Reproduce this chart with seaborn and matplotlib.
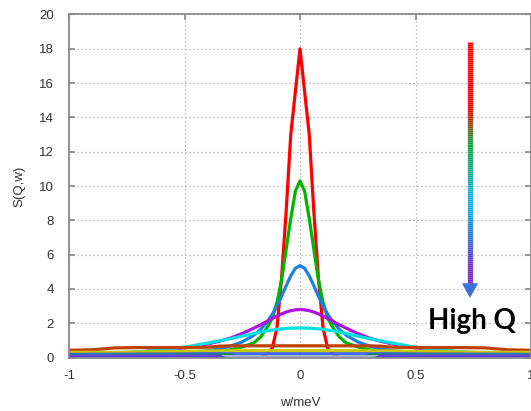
import numpy as np
import pandas as pd
import matplotlib
matplotlib.use("Agg")
import matplotlib.pyplot as plt
import seaborn as sns
from matplotlib.patches import Polygon
from matplotlib.collections import LineCollection
from matplotlib.colors import LinearSegmentedColormap

# ---------------- data (curves are symmetric in w) ----------------
w_half = [0.0, 0.02, 0.04, 0.06, 0.08, 0.10, 0.12, 0.14, 0.17, 0.20,
          0.25, 0.30, 0.35, 0.40, 0.50, 0.60, 0.70, 0.80, 0.90, 1.0]

S_red    = [18.0, 15.5, 13.0, 8.5, 4.6, 1.7, 0.55, 0.2, 0.0, 0.0,
            0.0, 0.0, -0.15, -0.15, -0.15, -0.15, -0.15, -0.15, -0.15, -0.15]
S_green  = [10.3, 9.7, 8.1, 6.3, 4.5, 3.2, 2.3, 1.8, 1.2, 0.85,
            0.62, 0.45, 0.35, 0.3, 0.25, 0.22, 0.2, 0.19, 0.18, 0.18]
S_blue   = [5.36, 5.2, 4.76, 4.18, 3.57, 3.0, 2.52, 2.12, 1.64, 1.3,
            0.91, 0.67, 0.5, 0.4, 0.28, 0.22, 0.2, 0.2, 0.2, 0.2]
S_purple = [2.8, 2.78, 2.73, 2.65, 2.54, 2.41, 2.28, 2.13, 1.91, 1.71,
            1.4, 1.14, 0.94, 0.79, 0.56, 0.42, 0.32, 0.25, 0.2, 0.17]
S_cyan   = [1.72, 1.72, 1.71, 1.69, 1.67, 1.64, 1.6, 1.56, 1.49, 1.4,
            1.25, 1.1, 0.97, 0.84, 0.6, 0.45, 0.33, 0.27, 0.23, 0.2]
S_brown  = [0.68, 0.68, 0.68, 0.68, 0.68, 0.68, 0.68, 0.68, 0.68, 0.68,
            0.68, 0.68, 0.66, 0.6, 0.58, 0.58, 0.58, 0.56, 0.45, 0.42]
S_yellow = [0.4, 0.4, 0.4, 0.4, 0.4, 0.4, 0.4, 0.4, 0.4, 0.4,
            0.39, 0.39, 0.38, 0.38, 0.36, 0.34, 0.32, 0.3, 0.3, 0.3]
S_royal  = [0.22, 0.22, 0.22, 0.22, 0.22, 0.22, 0.22, 0.22, 0.22, 0.22,
            0.22, 0.22, 0.22, 0.22, 0.21, 0.2, 0.2, 0.19, 0.19, 0.18]
S_dkgreen = [-0.2, -0.2, -0.2, -0.2, -0.2, -0.2, -0.2, -0.2, -0.2, -0.2,
             -0.2, 0.14, 0.14, 0.14, 0.14, 0.14, 0.14, 0.13, 0.13, 0.13]
S_grey   = [0.04, 0.04, 0.04, 0.04, 0.04, 0.04, 0.04, 0.04, 0.04, 0.04,
            0.06, 0.06, 0.07, 0.08, 0.08, 0.08, 0.08, 0.08, 0.08, 0.08]
S_violet = [-0.2, -0.2, -0.2, -0.2, -0.2, -0.2, -0.2, -0.2, -0.2, -0.2,
            -0.2, -0.2, 0.08, 0.08, 0.08, 0.08, 0.08, 0.08, 0.08, 0.08]

curve_names = ["red", "green", "blue", "purple", "cyan", "brown",
               "yellow", "royal", "darkgreen", "grey", "violet"]
curve_values = [S_red, S_green, S_blue, S_purple, S_cyan, S_brown,
                S_yellow, S_royal, S_dkgreen, S_grey, S_violet]
curve_colors = ["#ff0000", "#00b400", "#1a7fe0", "#b010e0", "#00e0e0",
                "#c04000", "#c8c800", "#4169e1", "#008040", "#9fb0d8", "#5a3ee0"]

x_ticks = [-1, -0.5, 0, 0.5, 1]
x_tick_labels = ["-1", "-0.5", "0", "0.5", "1"]
y_ticks = list(range(0, 21, 2))

# ---------------- long table ----------------
w_full = [-v for v in w_half[::-1]] + w_half[1:]
rows = []
for name, vals in zip(curve_names, curve_values):
    full = list(vals[::-1]) + list(vals[1:])
    for w, s in zip(w_full, full):
        rows.append((name, w, s))
df = pd.DataFrame(rows, columns=["curve", "w", "S"])

# ---------------- figure ----------------
sns.set_theme(style="white")
plt.rcParams["font.family"] = ["Liberation Sans", "DejaVu Sans"]

fig = plt.figure(figsize=(5.31, 4.11), dpi=100)
ax = fig.add_axes([69 / 531, 1 - 357.5 / 411, 462 / 531, 343 / 411])

sns.lineplot(data=df, x="w", y="S", hue="curve", hue_order=curve_names,
             palette=curve_colors, estimator=None, sort=False, lw=2.3,
             legend=False, ax=ax)

ax.set_xlim(-1, 1)
ax.set_ylim(0, 20)
ax.set_xticks(x_ticks)
ax.set_xticklabels(x_tick_labels)
ax.set_yticks(y_ticks)
ax.set_axisbelow(True)
ax.grid(True, color="#aaaaaa", linestyle=(0, (1, 2.2)), lw=0.9)
for sp in ax.spines.values():
    sp.set_color("#8a8a8a")
    sp.set_linewidth(1.3)
ax.tick_params(axis="both", which="both", direction="in", length=4,
               color="#8a8a8a", labelsize=9.5, labelcolor="#333333",
               top=True, right=True, bottom=True, left=True)
ax.tick_params(axis="x", pad=9)
ax.tick_params(axis="y", pad=11)
ax.set_xlabel("w/meV", fontsize=9.5, color="#333333", labelpad=11)
ax.set_ylabel("S(Q,w)", fontsize=9.5, color="#333333", labelpad=10)

# ---------------- gradient arrow + label ----------------
ax_x = 0.736
y_top, y_base, y_tip = 18.4, 4.33, 3.47
grad = LinearSegmentedColormap.from_list("qgrad", [
    (0.0, "#ff0000"), (0.27, "#ee0000"), (0.33, "#9a3a10"), (0.42, "#10a040"),
    (0.52, "#10a878"), (0.62, "#10b0d0"), (0.70, "#10a8e8"), (0.81, "#2a70d0"),
    (0.92, "#6a30c0"), (1.0, "#7a20b8")])
n = 120
ys = np.linspace(y_top, y_base, n + 1)
segs = [[(ax_x, ys[i]), (ax_x, ys[i + 1])] for i in range(n)]
lc = LineCollection(segs, colors=[grad(i / (n - 1)) for i in range(n)],
                    linewidths=3.8, capstyle="butt", zorder=5)
ax.add_collection(lc)
ax.add_patch(Polygon([(ax_x - 0.035, y_base), (ax_x + 0.035, y_base), (ax_x, y_tip)],
                     closed=True, facecolor="#3a70d8", edgecolor="none", zorder=6))
ax.text(0.745, 2.15, "High Q", fontsize=20, fontweight="bold", color="black",
        family=["Lato", "DejaVu Sans"], ha="center", va="center", zorder=7)

fig.savefig("out.png", dpi=100)
